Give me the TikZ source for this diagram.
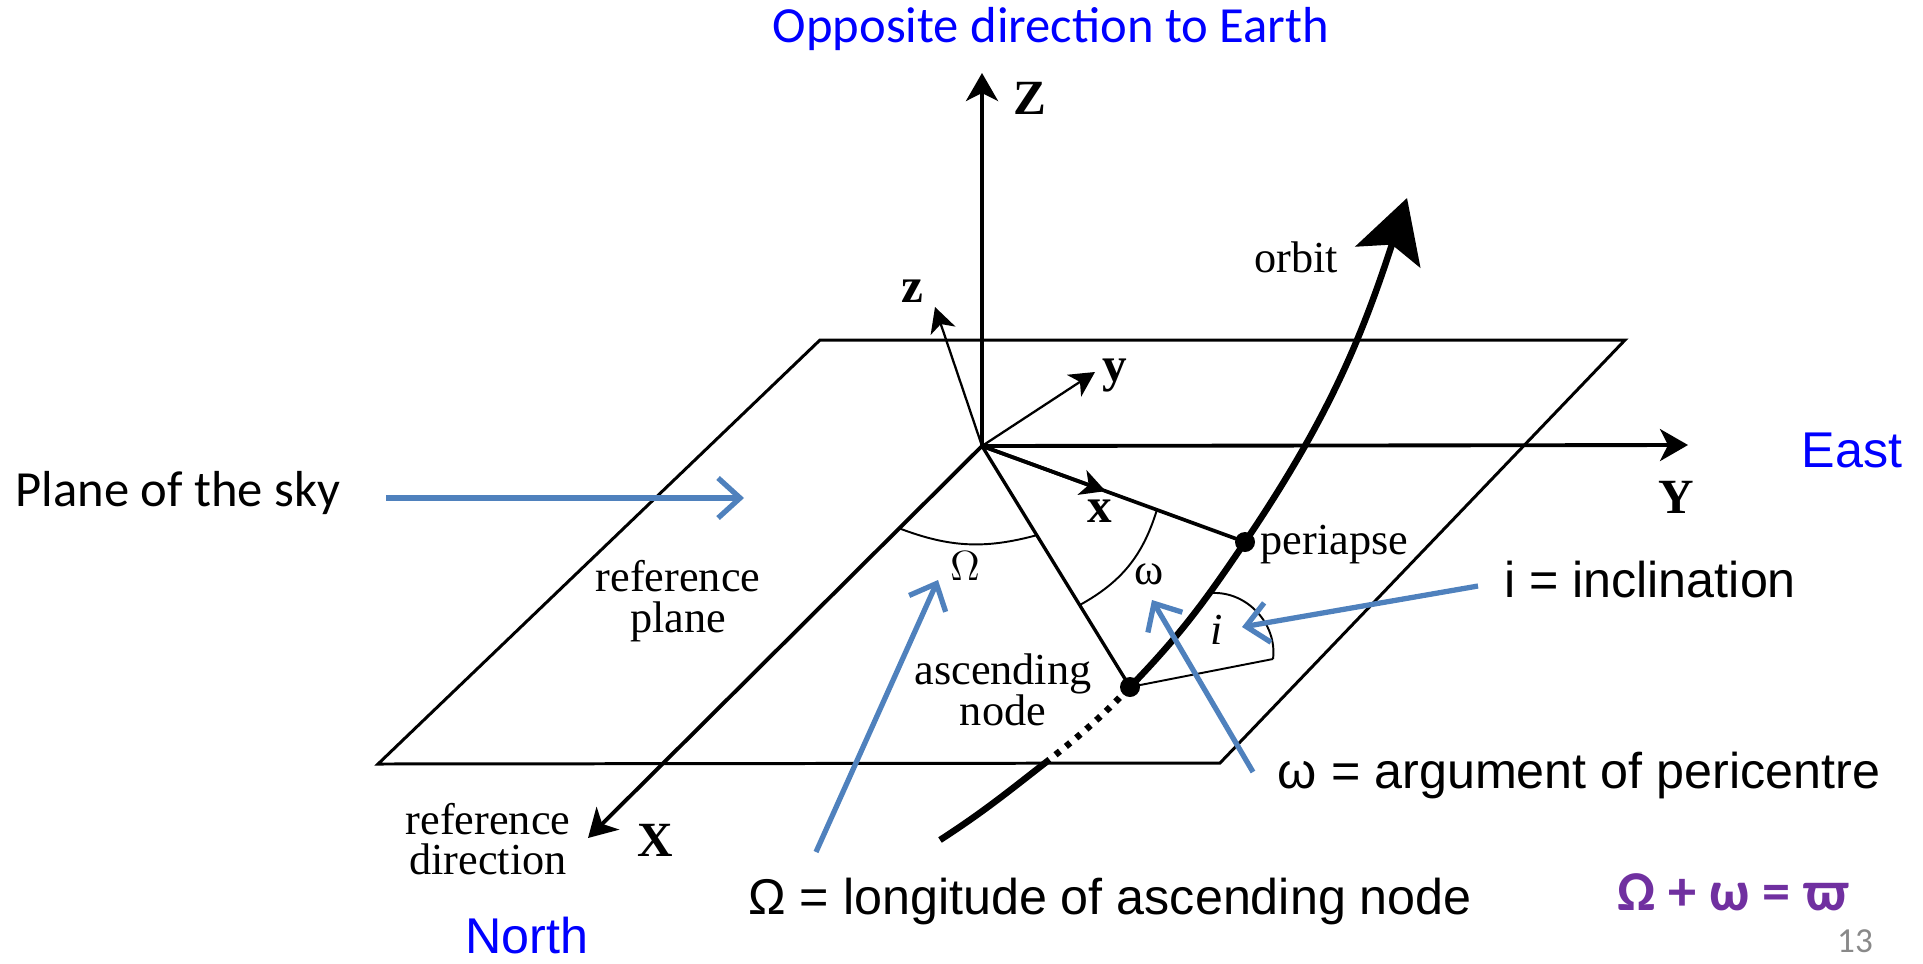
\documentclass[tikz,border=0pt]{standalone}
\usepackage{fontspec}
\setmainfont{Liberation Serif}
\setsansfont{Liberation Sans}
\newfontfamily\slidefont{Carlito}
\usetikzlibrary{arrows.meta,calc}

\definecolor{pointerblue}{RGB}{79,129,189}
\definecolor{formulapurple}{RGB}{112,48,160}
\definecolor{pagegray}{RGB}{137,137,137}

\begin{document}
\begin{tikzpicture}[
  lbl/.style={font=\fontsize{12.6}{11.6}\selectfont, align=center, inner sep=0pt},
  axislbl/.style={font=\fontsize{14}{14}\selectfont\bfseries, inner sep=0pt},
  note/.style={font=\sffamily\fontsize{14.3}{17}\selectfont, inner sep=0pt},
  slide/.style={font=\slidefont\fontsize{14.4}{17}\selectfont, inner sep=0pt},
  pointer/.style={draw=pointerblue, line width=1.5pt, -{Straight Barb[length=2.2mm, width=4mm]}},
  mainaxis/.style={line width=1.1pt, -{Stealth[length=2.8mm, width=3.2mm, inset=0.8mm]}},
  bodyaxis/.style={line width=0.65pt, -{Stealth[length=2.5mm, width=2.6mm, inset=0.7mm]}},
  orbitline/.style={line width=1.85pt},
  arcline/.style={line width=0.55pt},
]
  \useasboundingbox (0,0) rectangle (19.23,9.63);

  % origin and axis tips
  \coordinate (O) at (9.82, 5.17);
  \coordinate (Ztip) at (9.82, 8.90);
  \coordinate (Ytip) at (16.88, 5.18);
  \coordinate (Xtip) at (5.88, 1.25);
  \coordinate (ztip) at (9.35, 6.56);
  \coordinate (ytip) at (10.95, 5.91);

  % corners of the reference plane
  \coordinate (FL) at (3.78, 1.99);
  \coordinate (FR) at (12.20, 2.00);
  \coordinate (BR) at (16.25, 6.23);
  \coordinate (BL) at (8.20, 6.23);

  % points along the orbit
  \coordinate (OrbitStart) at (9.40, 1.23);
  \coordinate (FrontCross) at (10.45, 2.00);
  \coordinate (AscNode) at (11.30, 2.76);
  \coordinate (Peri) at (12.45, 4.21);
  \coordinate (OrbitTip) at (14.07, 7.65);

  % the reference plane
  \draw[line width=0.85pt] (FL) -- (FR) -- (BR) -- (BL) -- cycle;

  % Thick axes of the sky frame
  \draw[mainaxis] (O) -- (Ztip);
  \draw[mainaxis] (O) -- (Ytip);
  \draw[mainaxis] (O) -- (Xtip);

  % orbit frame
  \draw[bodyaxis] (O) -- (ztip);
  \draw[bodyaxis] (O) -- (ytip);
  \coordinate (xHead) at ($(O)!0.47!(Peri)$);
  \draw[line width=1.05pt] (O) -- (Peri);
  \draw[line width=1.05pt, -{Stealth[length=2.5mm, width=2.6mm, inset=0.7mm]}] (O) -- (xHead);

  % line of nodes
  \draw[line width=0.95pt] (O) -- (AscNode);

  % the orbit, hidden part dotted
  \draw[orbitline] (OrbitStart) to[out=33, in=218] (FrontCross);
  \draw[orbitline, dash pattern=on 1.6pt off 2.2pt] (FrontCross) to[out=38, in=226] (AscNode);
  \draw[orbitline, -{Stealth[length=6.2mm, width=6.8mm, inset=1.3mm]}]
    (AscNode) to[out=46, in=236] (Peri) to[out=56, in=252] (OrbitTip);

  % Angles
  \coordinate (OmA) at ($(O)!0.21!(Xtip)$);
  \coordinate (OmB) at ($(O)!0.37!(AscNode)$);
  \draw[arcline] (OmA) to[bend right=18] (OmB);

  \coordinate (omA) at ($(O)!0.665!(Peri)$);
  \coordinate (omB) at ($(O)!0.66!(AscNode)$);
  \draw[arcline] (omA) to[bend left=22] (omB);

  \coordinate (iStart) at (12.12, 3.70);
  \coordinate (iEnd) at (12.73, 3.04);
  \draw[arcline] (AscNode) -- (iEnd);
  \draw[arcline] (iStart) to[bend left=50] (iEnd);

  % Points
  \fill (AscNode) circle (0.1);
  \fill (Peri) circle (0.1);

  % axis labels
  \node[axislbl] (Zlbl) at (10.30, 8.65) {Z};
  \node[axislbl] (Ylbl) at (16.76, 4.66) {Y};
  \node[axislbl] (Xlbl) at (6.55, 1.23) {X};
  \node[axislbl] (zlbl) at (9.12, 6.72) {z};
  \node[axislbl] (ylbl) at (11.15, 5.87) {y};
  \node[axislbl] (xlbl) at (11.00, 4.52) {x};

  % diagram labels
  \node[lbl] (orbitLbl) at (12.96, 7.06) {orbit};
  \node[lbl] (planeLbl) at (6.78, 3.62) {reference\\plane};
  \node[lbl] (dirLbl) at (4.88, 1.24) {reference\\direction};
  \node[lbl, anchor=west] (periLbl) at (12.60, 4.18) {periapse};
  \node[lbl] (ascLbl) at (10.03, 2.73) {ascending\\node};
  \node[lbl] (OmLbl) at (9.65, 3.97) {$\Omega$};
  \node[lbl] (omLbl) at (11.49, 3.89) {ω};
  \node[lbl] (iLbl) at (12.17, 3.33) {\textit{i}};

  % slide texts
  \node[slide, blue] (earthLbl) at (10.51, 9.34) {Opposite direction to Earth};
  \node[slide] (skyLbl) at (1.78, 4.70) {Plane of the sky};
  \node[note, blue] (eastLbl) at (18.52, 5.13) {East};
  \node[note, blue] (northLbl) at (5.27, 0.27) {North};
  \node[note] (incLbl) at (16.50, 3.83) {i = inclination};
  \node[note] (argLbl) at (15.79, 1.88) {ω = argument of pericentre};
  \node[note] (lonLbl) at (11.10, 0.62) {Ω = longitude of ascending node};
  \node[font=\slidefont\bfseries\fontsize{16}{18}\selectfont, formulapurple, inner sep=0pt] (sumLbl) at (17.34, 0.71) {Ω + ω = ϖ};
  \node[font=\slidefont\fontsize{10}{12}\selectfont, pagegray, inner sep=0pt] (pageLbl) at (18.55, 0.22) {13};

  % blue pointers
  \coordinate (SkyTail) at (3.86, 4.65);
  \coordinate (SkyHead) at (7.44, 4.65);
  \coordinate (IncTail) at (14.78, 3.77);
  \coordinate (IncHead) at (12.42, 3.36);
  \coordinate (ArgTail) at (12.53, 1.91);
  \coordinate (ArgHead) at (11.52, 3.63);
  \coordinate (LonTail) at (8.16, 1.11);
  \coordinate (LonHead) at (9.38, 3.83);
  \draw[pointer] (SkyTail) -- (SkyHead);
  \draw[pointer] (IncTail) -- (IncHead);
  \draw[pointer] (ArgTail) -- (ArgHead);
  \draw[pointer] (LonTail) -- (LonHead);

\end{tikzpicture}
\end{document}
